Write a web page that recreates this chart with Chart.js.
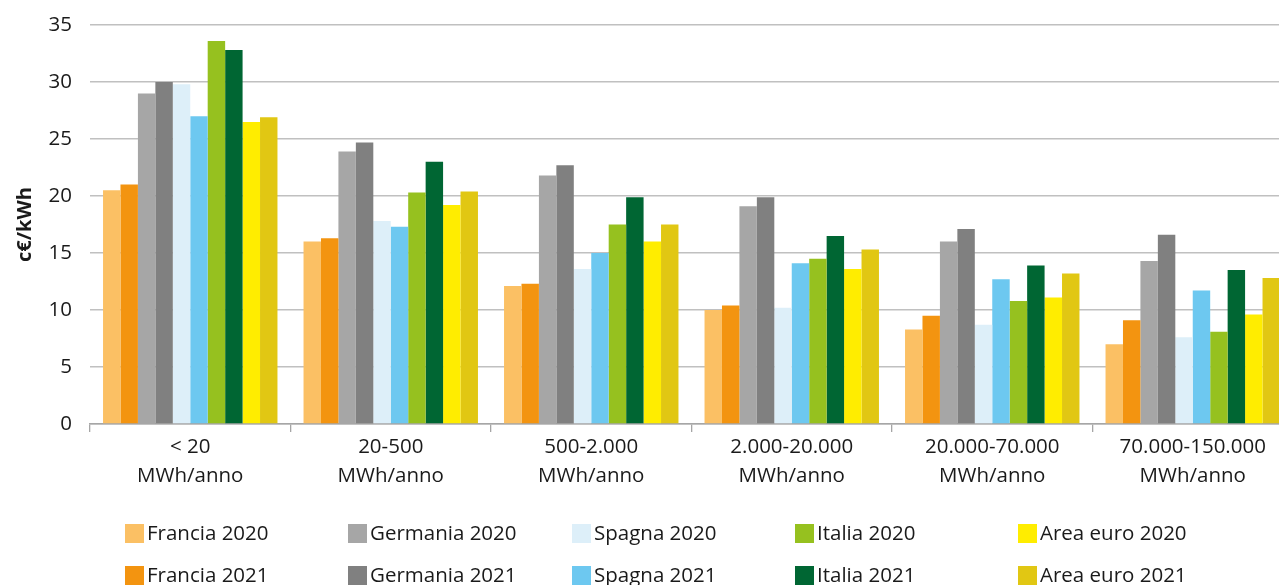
<!DOCTYPE html>
<html>
<head>
<meta charset="utf-8">
<script src="https://cdn.jsdelivr.net/npm/chart.js@4.4.1/dist/chart.umd.min.js"></script>
<style>
html,body{margin:0;padding:0;background:#fff;overflow:hidden;width:1279px;height:585px;}
#wrap{position:absolute;left:0;top:0;width:1293px;height:585px;}
</style>
</head>
<body>
<div id="wrap"><canvas id="c" width="1293" height="585"></canvas></div>
<script>
const categories = [["< 20","MWh/anno"],["20-500","MWh/anno"],["500-2.000","MWh/anno"],["2.000-20.000","MWh/anno"],["20.000-70.000","MWh/anno"],["70.000-150.000","MWh/anno"]];
const francia2020  = [20.5, 16.0, 12.1, 10.0, 8.3, 7.0];
const francia2021  = [21.0, 16.3, 12.3, 10.4, 9.5, 9.1];
const germania2020 = [29.0, 23.9, 21.8, 19.1, 16.0, 14.3];
const germania2021 = [30.0, 24.7, 22.7, 19.9, 17.1, 16.6];
const spagna2020   = [29.8, 17.8, 13.6, 10.2, 8.7, 7.6];
const spagna2021   = [27.0, 17.3, 15.0, 14.1, 12.7, 11.7];
const italia2020   = [33.6, 20.3, 17.5, 14.5, 10.8, 8.1];
const italia2021   = [32.8, 23.0, 19.9, 16.5, 13.9, 13.5];
const area2020     = [26.5, 19.2, 16.0, 13.6, 11.1, 9.6];
const area2021     = [26.9, 20.4, 17.5, 15.3, 13.2, 12.8];
const yTicks = [0,5,10,15,20,25,30,35];

const FONT = "'Open Sans'";
const series = [
  ["Francia 2020", francia2020, "#FBC064"],
  ["Francia 2021", francia2021, "#F39410"],
  ["Germania 2020", germania2020, "#A6A6A6"],
  ["Germania 2021", germania2021, "#808080"],
  ["Spagna 2020", spagna2020, "#DDEFF9"],
  ["Spagna 2021", spagna2021, "#6DC8F0"],
  ["Italia 2020", italia2020, "#96C11F"],
  ["Italia 2021", italia2021, "#006633"],
  ["Area euro 2020", area2020, "#FFED00"],
  ["Area euro 2021", area2021, "#E1C713"]
];

const legendPlugin = {
  id: 'gridLegend',
  afterDraw(chart) {
    const ctx = chart.ctx;
    const colX = [125, 348, 572, 795, 1018];
    const rowY = [533.5, 575.5];
    ctx.save();
    ctx.font = "20.5px " + FONT;
    ctx.textBaseline = "middle";
    ctx.textAlign = "left";
    chart.data.datasets.forEach((ds, i) => {
      const col = Math.floor(i / 2), row = i % 2;
      const x = colX[col], y = rowY[row];
      ctx.fillStyle = ds.backgroundColor;
      ctx.fillRect(x, y - 9.5, 19, 19);
      ctx.fillStyle = "#1a1a1a";
      ctx.fillText(ds.label, x + 22, y + 1);
    });
    ctx.restore();
  }
};

new Chart(document.getElementById('c'), {
  type: 'bar',
  data: {
    labels: categories,
    datasets: series.map(s => ({
      label: s[0], data: s[1], backgroundColor: s[2],
      borderWidth: 0, barPercentage: 1.0, categoryPercentage: 0.87
    }))
  },
  options: {
    responsive: false,
    animation: false,
    layout: { padding: { top: 25, left: 0, right: 0, bottom: 0 } },
    plugins: { legend: { display: false }, tooltip: { enabled: false } },
    scales: {
      x: {
        afterFit(s) { s.height = 161; },
        grid: { offset: true, drawOnChartArea: false, color: "#A6A6A6", lineWidth: 1.3, tickLength: 8 },
        border: { color: "#A6A6A6", width: 1.5 },
        ticks: { color: "#1a1a1a", font: { family: FONT, size: 20.5, lineHeight: 1.415 }, padding: 0.5, maxRotation: 0, autoSkip: false }
      },
      y: {
        min: 0, max: 35,
        afterFit(s) { s.width = 90; s.paddingTop = 0; s.paddingBottom = 0; },
        afterBuildTicks(s) { s.ticks = yTicks.map(v => ({ value: v })); },
        grid: { color: "#C0C0C0", lineWidth: 1.4, drawTicks: false },
        border: { display: false },
        ticks: { color: "#1a1a1a", font: { family: FONT, size: 20.5 }, padding: 18 },
        title: { display: true, text: "c€/kWh", color: "#1a1a1a", font: { family: FONT, size: 20, weight: "bold" }, padding: { top: 13, bottom: 0 } }
      }
    }
  },
  plugins: [legendPlugin]
});
</script>
</body>
</html>
